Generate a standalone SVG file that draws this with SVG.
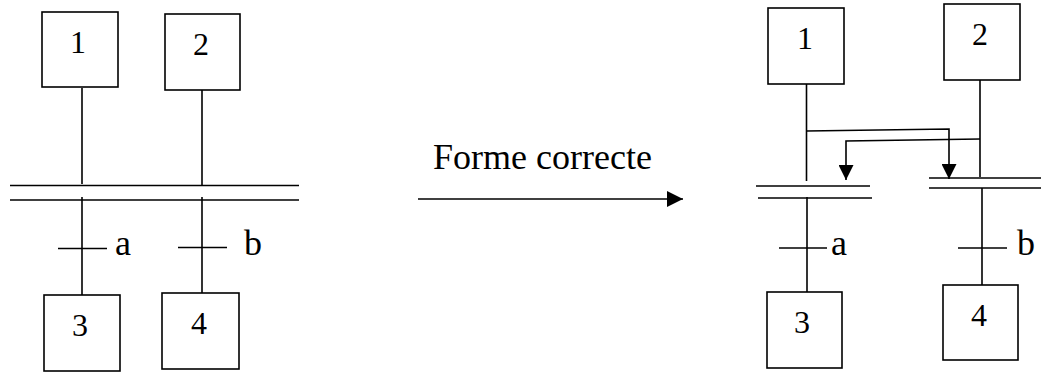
<svg xmlns="http://www.w3.org/2000/svg" width="1041" height="372" viewBox="0 0 1041 372">
<style>
.box{fill:#fff;stroke:#000;stroke-width:1.6}
.ln{fill:none;stroke:#000;stroke-width:1.6}
.num{font-family:"Liberation Serif",serif;font-size:32px;text-anchor:middle;fill:#000}
.lbl{font-family:"Liberation Serif",serif;font-size:36px;fill:#000}
</style>
<defs>
<marker id="ah" markerWidth="16" markerHeight="16" viewBox="0 0 16 16" refX="16" refY="8" orient="auto" markerUnits="userSpaceOnUse">
<path d="M0,0 L16,8 L0,16 Z" fill="#000"/>
</marker>
<marker id="ahs" markerWidth="15" markerHeight="15" viewBox="0 0 15 15" refX="15" refY="7.5" orient="auto" markerUnits="userSpaceOnUse">
<path d="M0,0 L15,7.5 L0,15 Z" fill="#000"/>
</marker>
</defs>
<g id="connectors">
<!-- left diagram -->
<line class="ln" x1="82" y1="88" x2="82" y2="184"/>
<line class="ln" x1="202" y1="90" x2="202" y2="185"/>
<line class="ln" x1="10" y1="185.5" x2="299" y2="185.5"/>
<line class="ln" x1="10" y1="200" x2="299" y2="200"/>
<line class="ln" x1="82" y1="197" x2="82" y2="295"/>
<line class="ln" x1="202" y1="197" x2="202" y2="293"/>
<line class="ln" x1="58" y1="248.5" x2="107" y2="248.5"/>
<line class="ln" x1="178" y1="247.5" x2="227" y2="247.5"/>
<!-- middle arrow -->
<line class="ln" x1="418" y1="199" x2="683" y2="199" marker-end="url(#ah)"/>
<!-- right diagram -->
<line class="ln" x1="806.5" y1="84" x2="806.5" y2="181"/>
<line class="ln" x1="980" y1="80" x2="980" y2="177"/>
<polyline class="ln" points="806.5,131 949,129 949,179" marker-end="url(#ahs)"/>
<polyline class="ln" points="980,139 846,141 846,180" marker-end="url(#ahs)"/>
<line class="ln" x1="756" y1="186" x2="870" y2="186"/>
<line class="ln" x1="758" y1="198" x2="872" y2="198"/>
<line class="ln" x1="929" y1="178" x2="1041" y2="178"/>
<line class="ln" x1="929" y1="188" x2="1041" y2="188"/>
<line class="ln" x1="807" y1="197" x2="807" y2="292"/>
<line class="ln" x1="982" y1="188" x2="982" y2="285"/>
<line class="ln" x1="779" y1="248" x2="827" y2="248"/>
<line class="ln" x1="958" y1="248" x2="1007" y2="248"/>
</g>
<g id="labels">
<text class="lbl" x="115" y="255">a</text>
<text class="lbl" x="244" y="255">b</text>
<text class="lbl" x="831" y="255">a</text>
<text class="lbl" x="1017" y="255">b</text>
<text class="lbl" x="433" y="169">Forme correcte</text>
</g>
<g id="L1"><rect class="box" x="42" y="12" width="76" height="75"/><text class="num" x="78" y="53">1</text></g>
<g id="L2"><rect class="box" x="165" y="14" width="75" height="76"/><text class="num" x="201" y="55">2</text></g>
<g id="L3"><rect class="box" x="44" y="295" width="76" height="76"/><text class="num" x="80" y="336">3</text></g>
<g id="L4"><rect class="box" x="162" y="293" width="77" height="76"/><text class="num" x="199" y="334">4</text></g>
<g id="R1"><rect class="box" x="768" y="8" width="76" height="76"/><text class="num" x="805" y="49">1</text></g>
<g id="R2"><rect class="box" x="944" y="4" width="76" height="76"/><text class="num" x="980" y="45">2</text></g>
<g id="R3"><rect class="box" x="767" y="292" width="75" height="76"/><text class="num" x="802" y="333">3</text></g>
<g id="R4"><rect class="box" x="943" y="285" width="75" height="75"/><text class="num" x="979" y="326">4</text></g>
</svg>
